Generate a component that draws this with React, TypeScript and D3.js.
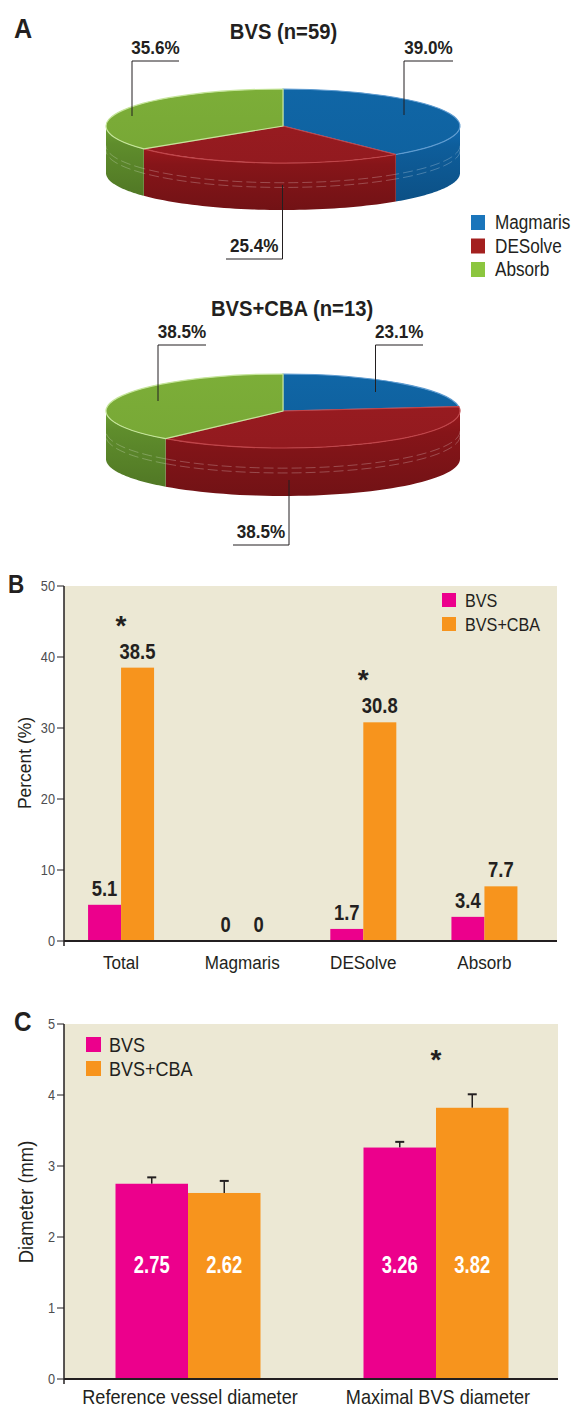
import React from "react";
import * as d3 from "d3";

const FONT = "'Liberation Sans',Arial,sans-serif";
const INK = "#231F20";

// ---------- Panel A data ----------
const pieCategories = ["Magmaris", "DESolve", "Absorb"];
const pieBVS = [39.0, 25.4, 35.6];
const pieCBA = [23.1, 38.5, 38.5];
const pieTitles = ["BVS (n=59)", "BVS+CBA (n=13)"];
const pieTopColors = ["#0F62A0", "#921A1F", "#78A836"];
const pieSideColors = ["#0E5E9C", "#861519", "#5F8D2C"];
const pieEdgeColors = ["#5E9BD0", "#C0454A", "#C5E59A"];
const legendColorsA = ["#1A75BB", "#A3201F", "#8CC63F"];

// ---------- Panel B data ----------
const barCategories = ["Total", "Magmaris", "DESolve", "Absorb"];
const barBVS = [5.1, 0, 1.7, 3.4];
const barCBA = [38.5, 0, 30.8, 7.7];
const barSig = [true, false, true, false];
const percentTicks = [0, 10, 20, 30, 40, 50];

// ---------- Panel C data ----------
const diamCategories = ["Reference vessel diameter", "Maximal BVS diameter"];
const diamBVS = [2.75, 3.26];
const diamCBA = [2.62, 3.82];
const diamBVSsd = [0.09, 0.08];
const diamCBAsd = [0.17, 0.19];
const diamSig = [false, true];
const diamTicks = [0, 1, 2, 3, 4, 5];

const seriesNames = ["BVS", "BVS+CBA"];
const seriesColors = ["#EC008C", "#F7941D"];
const BG = "#ECE8D4";

// leader-line layout for pie labels (annotation geometry)
const pieLabelLayouts = [
  [
    { idx: 0, x: 404, y0: 115, yE: 61, x2: 453 },
    { idx: 1, x: 282.5, y0: 185, yE: 259, x2: 226 },
    { idx: 2, x: 132, y0: 116, yE: 61, x2: 179 },
  ],
  [
    { idx: 0, x: 375.5, y0: 392, yE: 345, x2: 423 },
    { idx: 1, x: 289, y0: 480, yE: 545, x2: 233 },
    { idx: 2, x: 158, y0: 401, yE: 345, x2: 206 },
  ],
];

const pctFmt = (v: number) => d3.format(".1f")(v) + "%";

function T({ x, y, size, bold, fill = INK, anchor = "start", sx = 0.9, rot = 0, dy, children }: any) {
  return (
    <text
      transform={`translate(${x},${y}) rotate(${rot}) scale(${sx},1)`}
      textAnchor={anchor}
      fontFamily={FONT}
      fontWeight={bold ? "bold" : "normal"}
      fontSize={size}
      fill={fill}
      dy={dy}
    >
      {children}
    </text>
  );
}

function Pie3D({ values, cx, cy, rx, ry, depth, id, layout, title, titleX, titleY }: any) {
  const pie = d3.pie<number>().sort(null).value((d) => d);
  const arcs = pie(values);
  const pt = (t: number, dy = 0): [number, number] => [cx + rx * Math.sin(t), cy - ry * Math.cos(t) + dy];
  const line = d3.line();
  const N = 48;
  const clip = (a0: number, a1: number) => [Math.max(a0, Math.PI / 2), Math.min(a1, (3 * Math.PI) / 2)];
  const sidePath = (a0: number, a1: number) => {
    const [s, e] = clip(a0, a1);
    if (e <= s) return null;
    const top = d3.range(N + 1).map((i) => pt(s + ((e - s) * i) / N));
    const bot = d3.range(N + 1).map((i) => pt(e - ((e - s) * i) / N, depth));
    return line([...top, ...bot]) + "Z";
  };
  const seamPath = (a0: number, a1: number, dy: number) => {
    const [s, e] = clip(a0, a1);
    if (e <= s) return null;
    return line(d3.range(N + 1).map((i) => pt(s + ((e - s) * i) / N, dy)));
  };
  const arcGen = d3.arc<any>().innerRadius(0).outerRadius(rx);
  return (
    <g>
      <defs>
        {pieSideColors.map((c, i) => (
          <linearGradient key={i} id={`${id}side${i}`} x1="0" y1="0" x2="0" y2="1">
            <stop offset="0" stopColor={d3.color(c)!.brighter(0.35).formatHex()} />
            <stop offset="0.25" stopColor={c} />
            <stop offset="1" stopColor={d3.color(c)!.darker(0.45).formatHex()} />
          </linearGradient>
        ))}
        {pieTopColors.map((c, i) => (
          <linearGradient key={i} id={`${id}top${i}`} x1="0" y1="0" x2="0" y2="1">
            <stop offset="0" stopColor={d3.color(c)!.brighter(0.1).formatHex()} />
            <stop offset="1" stopColor={c} />
          </linearGradient>
        ))}
      </defs>
      <T x={titleX} y={titleY} size={22} bold anchor="middle" sx={0.92}>
        {title}
      </T>
      {arcs.map((a, i) => {
        const p = sidePath(a.startAngle, a.endAngle);
        return p ? <path key={"s" + i} d={p} fill={`url(#${id}side${i})`} /> : null;
      })}
      {arcs.map((a, i) => {
        const s1 = seamPath(a.startAngle, a.endAngle, depth * 0.42);
        const s2 = seamPath(a.startAngle, a.endAngle, depth * 0.52);
        return (
          <g key={"m" + i} fill="none" stroke="#ffffff" strokeOpacity={0.3} strokeWidth={0.8} strokeDasharray="10 4">
            {s1 && <path d={s1} />}
            {s2 && <path d={s2} />}
          </g>
        );
      })}
      {arcs.map((a, i) => (
        <path
          key={"t" + i}
          d={arcGen(a) as string}
          transform={`translate(${cx},${cy}) scale(1,${ry / rx})`}
          fill={`url(#${id}top${i})`}
          stroke={pieEdgeColors[i]}
          strokeWidth={1.2}
          vectorEffect="non-scaling-stroke"
        />
      ))}
      {layout.map((L: any, k: number) => {
        const w = Math.abs(L.x2 - L.x);
        const lx = Math.min(L.x, L.x2) + w / 2;
        return (
          <g key={"l" + k}>
            <path d={`M${L.x},${L.y0}V${L.yE}H${L.x2}`} fill="none" stroke={INK} strokeWidth={1} />
            <T x={lx} y={L.yE - 7} size={19} bold anchor="middle" sx={0.9}>
              {pctFmt(values[L.idx])}
            </T>
          </g>
        );
      })}
    </g>
  );
}

function PanelB() {
  const x = d3.scaleBand<string>().domain(barCategories).range([60.5, 545]).padding(0);
  const y = d3.scaleLinear().domain([0, 50]).range([941, 586]);
  const bw = 33;
  const left = 64, right = 557;
  return (
    <g>
      <rect x={left} y={y(50)} width={right - left} height={y(0) - y(50)} fill={BG} />
      {barCategories.map((c, i) => {
        const cx = x(c)! + x.bandwidth() / 2;
        return (
          <g key={c}>
            <rect x={cx - bw} y={y(barBVS[i])} width={bw} height={y(0) - y(barBVS[i])} fill={seriesColors[0]} />
            <rect x={cx} y={y(barCBA[i])} width={bw} height={y(0) - y(barCBA[i])} fill={seriesColors[1]} />
            <T x={cx - bw / 2} y={y(barBVS[i]) - 9} size={22.5} bold anchor="middle" sx={0.82}>
              {d3.format("")(barBVS[i])}
            </T>
            <T x={cx + bw / 2} y={y(barCBA[i]) - 9} size={22.5} bold anchor="middle" sx={0.82}>
              {d3.format("")(barCBA[i])}
            </T>
            {barSig[i] && (
              <T x={cx} y={y(barCBA[i]) - 33} size={28} bold anchor="middle" sx={1}>
                *
              </T>
            )}
            <T x={cx} y={969} size={19} anchor="middle" sx={0.9}>
              {c}
            </T>
          </g>
        );
      })}
      {percentTicks.map((t) => (
        <g key={t}>
          <line x1={left - 7} x2={left} y1={y(t)} y2={y(t)} stroke={INK} strokeWidth={1} />
          <T x={left - 9} y={y(t)} dy="0.35em" size={15} anchor="end" fill="#4D4D4F" sx={0.85}>
            {t}
          </T>
        </g>
      ))}
      <line x1={left} x2={left} y1={y(50)} y2={y(0) + 5} stroke={INK} strokeWidth={1.5} />
      <line x1={left} x2={right} y1={y(0)} y2={y(0)} stroke={INK} strokeWidth={2} />
      <T x={31} y={763} rot={-90} size={19} anchor="middle" sx={0.92}>
        Percent (%)
      </T>
      {seriesNames.map((s, i) => (
        <g key={s}>
          <rect x={442} y={593 + i * 24} width={14} height={14} fill={seriesColors[i]} />
          <T x={465} y={607 + i * 24} size={18} sx={0.9}>
            {s}
          </T>
        </g>
      ))}
      <T x={8} y={593} size={25} bold sx={0.9}>
        B
      </T>
    </g>
  );
}

function PanelC() {
  const x = d3.scaleBand<string>().domain(diamCategories).range([64, 560]).padding(0);
  const y = d3.scaleLinear().domain([0, 5]).range([1379, 1024]);
  const bw = 72.5;
  const left = 64, right = 558;
  return (
    <g>
      <rect x={left} y={y(5)} width={right - left} height={y(0) - y(5)} fill={BG} />
      {diamCategories.map((c, i) => {
        const cx = x(c)! + x.bandwidth() / 2;
        const bars = [
          { v: diamBVS[i], sd: diamBVSsd[i], x0: cx - bw, col: seriesColors[0] },
          { v: diamCBA[i], sd: diamCBAsd[i], x0: cx, col: seriesColors[1] },
        ];
        return (
          <g key={c}>
            {bars.map((b, j) => (
              <g key={j}>
                <line x1={b.x0 + bw / 2} x2={b.x0 + bw / 2} y1={y(b.v)} y2={y(b.v + b.sd)} stroke={INK} strokeWidth={1.5} />
                <line x1={b.x0 + bw / 2 - 4.5} x2={b.x0 + bw / 2 + 4.5} y1={y(b.v + b.sd)} y2={y(b.v + b.sd)} stroke={INK} strokeWidth={2} />
                <rect x={b.x0} y={y(b.v)} width={bw} height={y(0) - y(b.v)} fill={b.col} />
                <T x={b.x0 + bw / 2} y={1273} size={23} bold anchor="middle" fill="#ffffff" sx={0.8}>
                  {d3.format(".2f")(b.v)}
                </T>
              </g>
            ))}
            {diamSig[i] && (
              <T x={cx} y={1069} size={28} bold anchor="middle" sx={1}>
                *
              </T>
            )}
            <T x={cx + 2} y={1404} size={19.5} anchor="middle" sx={0.93}>
              {c}
            </T>
          </g>
        );
      })}
      {diamTicks.map((t) => (
        <g key={t}>
          <line x1={left - 7} x2={left} y1={y(t)} y2={y(t)} stroke={INK} strokeWidth={1} />
          <T x={left - 9} y={y(t)} dy="0.35em" size={15} anchor="end" fill="#4D4D4F" sx={0.85}>
            {t}
          </T>
        </g>
      ))}
      <line x1={left} x2={left} y1={y(5)} y2={y(0) + 5} stroke={INK} strokeWidth={1.5} />
      <line x1={left} x2={right} y1={y(0)} y2={y(0)} stroke={INK} strokeWidth={2} />
      <T x={33} y={1202} rot={-90} size={20} anchor="middle" sx={0.92}>
        Diameter (mm)
      </T>
      {seriesNames.map((s, i) => (
        <g key={s}>
          <rect x={86} y={1037 + i * 24} width={15} height={15} fill={seriesColors[i]} />
          <T x={109} y={1052 + i * 24} size={20} sx={0.9}>
            {s}
          </T>
        </g>
      ))}
      <T x={14} y={1031} size={27} bold sx={0.9}>
        C
      </T>
    </g>
  );
}

export default function App() {
  return (
    <svg width={572} height={1407} style={{ position: "absolute", left: 0, top: 0, background: "#fff" }}>
      <T x={14} y={38} size={28} bold sx={0.9}>
        A
      </T>
      <Pie3D values={pieBVS} cx={283} cy={126} rx={177} ry={37} depth={47} id="p1" layout={pieLabelLayouts[0]} title={pieTitles[0]} titleX={283.5} titleY={39} />
      <Pie3D values={pieCBA} cx={283} cy={411} rx={177} ry={37} depth={48} id="p2" layout={pieLabelLayouts[1]} title={pieTitles[1]} titleX={292} titleY={316} />
      {pieCategories.map((c, i) => (
        <g key={c}>
          <rect x={471} y={215 + i * 23.5} width={14} height={15} fill={legendColorsA[i]} />
          <T x={495} y={229 + i * 23.5} size={19.5} sx={0.88}>
            {c}
          </T>
        </g>
      ))}
      <PanelB />
      <PanelC />
    </svg>
  );
}
